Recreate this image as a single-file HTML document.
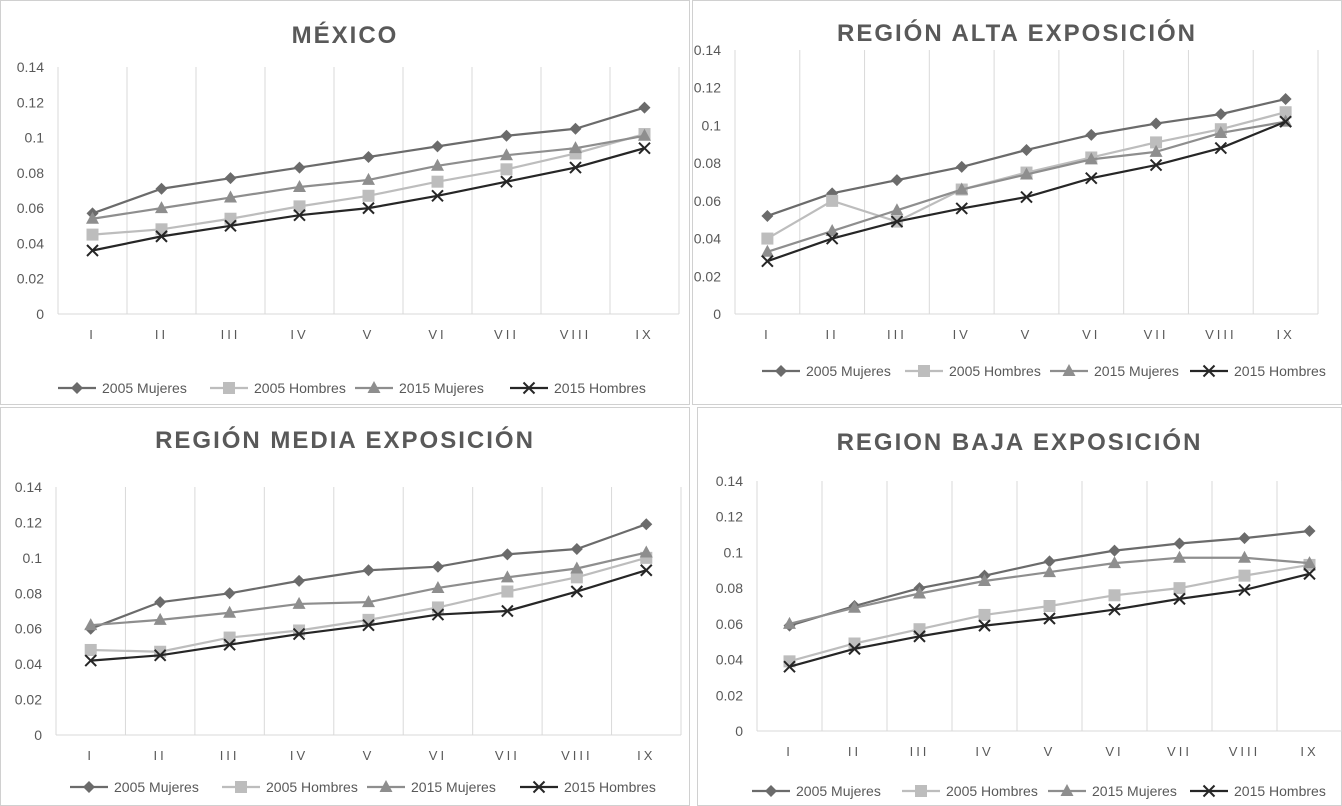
<!DOCTYPE html>
<html><head><meta charset="utf-8"><style>
body{margin:0;background:#fff;font-family:"Liberation Sans",sans-serif}
svg{display:block}
</style></head><body>
<svg id="c" width="1342" height="806" xmlns="http://www.w3.org/2000/svg"></svg>
<script>
const categories=["I","II","III","IV","V","VI","VII","VIII","IX"];
const yTicks=[0,0.02,0.04,0.06,0.08,0.1,0.12,0.14];
const yTickLabels=["0","0.02","0.04","0.06","0.08","0.1","0.12","0.14"];
const seriesNames=["2005 Mujeres","2005 Hombres","2015 Mujeres","2015 Hombres"];
const titles=["MÉXICO","REGIÓN ALTA EXPOSICIÓN","REGIÓN MEDIA EXPOSICIÓN","REGION BAJA EXPOSICIÓN"];
const mexM05=[.057,.071,.077,.083,.089,.095,.101,.105,.117];
const mexH05=[.045,.048,.054,.061,.067,.075,.082,.091,.102];
const mexM15=[.054,.060,.066,.072,.076,.084,.090,.094,.101];
const mexH15=[.036,.044,.050,.056,.060,.067,.075,.083,.094];
const altaM05=[.052,.064,.071,.078,.087,.095,.101,.106,.114];
const altaH05=[.040,.060,.049,.066,.075,.083,.091,.098,.107];
const altaM15=[.033,.044,.055,.066,.074,.082,.086,.096,.102];
const altaH15=[.028,.040,.049,.056,.062,.072,.079,.088,.102];
const mediaM05=[.060,.075,.080,.087,.093,.095,.102,.105,.119];
const mediaH05=[.048,.047,.055,.059,.065,.072,.081,.089,.100];
const mediaM15=[.062,.065,.069,.074,.075,.083,.089,.094,.103];
const mediaH15=[.042,.045,.051,.057,.062,.068,.070,.081,.093];
const bajaM05=[.059,.070,.080,.087,.095,.101,.105,.108,.112];
const bajaH05=[.039,.049,.057,.065,.070,.076,.080,.087,.093];
const bajaM15=[.060,.069,.077,.084,.089,.094,.097,.097,.094];
const bajaH15=[.036,.046,.053,.059,.063,.068,.074,.079,.088];
const panelData=[[mexM05,mexH05,mexM15,mexH15],[altaM05,altaH05,altaM15,altaH15],[mediaM05,mediaH05,mediaM15,mediaH15],[bajaM05,bajaH05,bajaM15,bajaH15]];
const colors=["#6b6b6b","#bdbdbd","#8e8e8e","#262626"];
const markers=["diamond","square","triangle","x"];
const layouts=[
 {bx:0,by:0,bw:690,bh:405,l:58,r:679,t:67,z:314,ty:34,ly:388,lx:[58,210,355,510]},
 {bx:692,by:0,bw:650,bh:405,l:735,r:1318,t:50,z:314,ty:32,ly:371,lx:[762,905,1050,1190]},
 {bx:0,by:407,bw:690,bh:399,l:56,r:681,t:487,z:735,ty:439,ly:787,lx:[70,222,367,520]},
 {bx:697,by:407,bw:645,bh:399,l:757,r:1342,t:481,z:731,ty:441,ly:791,lx:[752,902,1048,1190]}
];
const NS="http://www.w3.org/2000/svg";
const svg=document.getElementById('c');
function mk(tag,attrs,parent){const e=document.createElementNS(NS,tag);for(const k in attrs)e.setAttribute(k,attrs[k]);(parent||svg).appendChild(e);return e;}
function marker(g,type,x,y,col){
 let e;
 if(type==="diamond")e=mk('polygon',{points:`${x},${y-6} ${x+6},${y} ${x},${y+6} ${x-6},${y}`,fill:col},g);
 else if(type==="square")e=mk('rect',{x:x-6,y:y-6,width:12,height:12,fill:col},g);
 else if(type==="triangle")e=mk('polygon',{points:`${x},${y-7} ${x+6.5},${y+5} ${x-6.5},${y+5}`,fill:col},g);
 else e=mk('path',{d:`M${x-5.5},${y-5.5}L${x+5.5},${y+5.5}M${x+5.5},${y-5.5}L${x-5.5},${y+5.5}`,stroke:col,'stroke-width':2,fill:'none'},g);
 return e;
}
layouts.forEach((L,pi)=>{
 const g=mk('g',{});
 
 
 const b=mk('rect',{x:L.bx+0.5,y:L.by+0.5,width:L.bw-1,height:L.bh-1,fill:'#fff',stroke:'#d0d0d0'},g);
 
 const n=categories.length, step=(L.r-L.l)/n;
 const xs=i=>L.l+step*(i+0.5);
 const ys=v=>L.z-(v/0.14)*(L.z-L.t);
 for(let i=0;i<=n;i++){const gl=mk('line',{x1:L.l+step*i,x2:L.l+step*i,y1:L.t,y2:L.z,stroke:'#d9d9d9'},g);}
 const ax=mk('line',{x1:L.l,x2:L.r,y1:L.z,y2:L.z,stroke:'#d9d9d9'},g);
 
 const tt=mk('text',{x:(L.bx+L.bw/2),y:L.ty+9,'text-anchor':'middle','font-size':24,'font-weight':'bold',fill:'#595959','letter-spacing':'2'},g);
 tt.textContent=titles[pi];
 yTicks.forEach((v,i)=>{const t=mk('text',{x:L.l-14,y:ys(v)+5,'text-anchor':'end','font-size':14,fill:'#595959'},g);t.textContent=yTickLabels[i];});
 categories.forEach((c,i)=>{const t=mk('text',{x:xs(i),y:L.z+25,'text-anchor':'middle','font-size':13,fill:'#595959','letter-spacing':'3'},g);t.textContent=c;});
 panelData[pi].forEach((d,si)=>{
  const sg=mk('g',{},g);
  
  
  mk('polyline',{points:d.map((v,i)=>xs(i)+','+ys(v)).join(' '),fill:'none',stroke:colors[si],'stroke-width':2.2},sg);
  d.forEach((v,i)=>{const m=marker(sg,markers[si],xs(i),ys(v),colors[si]);});
  const lg=mk('g',{},g);
  
  
  const x0=L.lx[si];
  mk('line',{x1:x0,x2:x0+38,y1:L.ly,y2:L.ly,stroke:colors[si],'stroke-width':2.2},lg);
  marker(lg,markers[si],x0+19,L.ly,colors[si]);
  const lt=mk('text',{x:x0+44,y:L.ly+5,'font-size':14,fill:'#595959'},lg);lt.textContent=seriesNames[si];
 });
});
</script>
</body></html>
